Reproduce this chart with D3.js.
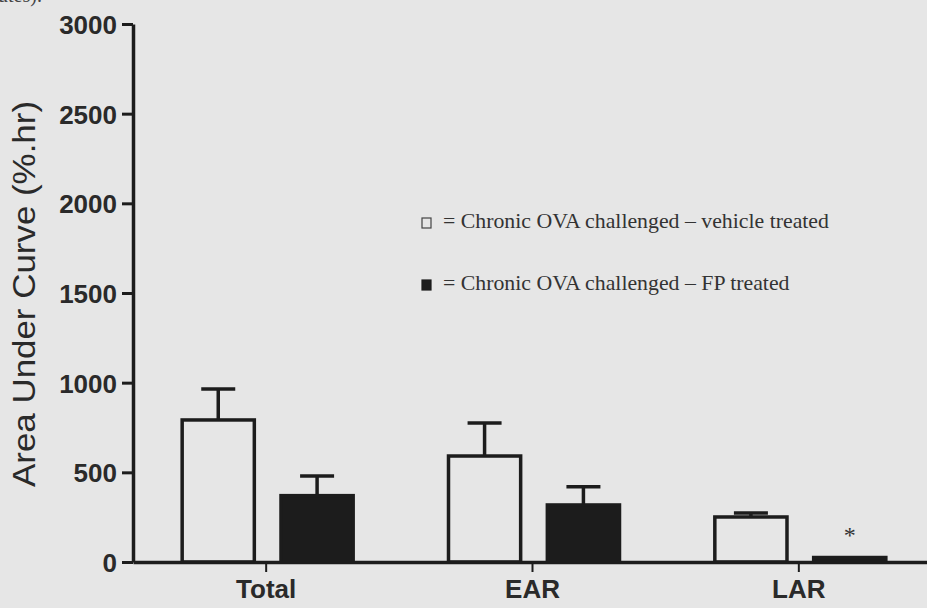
<!DOCTYPE html>
<html>
<head>
<meta charset="utf-8">
<script src="https://cdn.jsdelivr.net/npm/d3@7"></script>
<style>
  body { margin: 0; background: #e5e5e5; }
  svg { display: block; }
</style>
</head>
<body>
<div id="chart"></div>
<script>
// chart size
var w = 927;
var h = 608;

// data
var categories = ["Total", "EAR", "LAR"];
var groups = ["vehicle", "FP"];
var vehicleMeans = [792, 591, 251];
var vehicleErrors = [172, 184, 22];
var fpMeans = [370, 318, 25];
var fpErrors = [110, 102, 0];
var yTicks = [0, 500, 1000, 1500, 2000, 2500, 3000];
var legendLabels = ["= Chronic OVA challenged \u2013 vehicle treated",
                    "= Chronic OVA challenged \u2013 FP treated"];

var ink = "#1c1c1c";

var rows = [];
categories.forEach(function(c, i) {
    rows.push({cat: c, grp: "vehicle", mean: vehicleMeans[i], err: vehicleErrors[i]});
    rows.push({cat: c, grp: "FP", mean: fpMeans[i], err: fpErrors[i]});
});

var svg = d3.select("#chart")
            .append("svg")
            .attr("width", w)
            .attr("height", h);

// scanned page background
svg.append("rect")
   .attr("width", w)
   .attr("height", h)
   .style("fill", "#e6e6e6");

// scales
var yScale = d3.scaleLinear()
    .domain([0, 3000])
    .range([562, 24]);

var xScale = d3.scaleBand()
    .domain(categories)
    .range([133, 932])
    .paddingInner(0)
    .paddingOuter(0);

var bw = xScale.bandwidth();
var xSub = d3.scaleBand()
    .domain(groups)
    .range([bw / 2 - 84, bw / 2 + 87])
    .paddingInner(0.27);

// cut-off caption line from the page above
svg.append("text")
   .attr("x", -2)
   .attr("y", 2)
   .style("font-family", "Liberation Serif, serif")
   .style("font-size", "20px")
   .style("fill", "#444")
   .text("utes).");

// bars
svg.selectAll("rect.bar")
   .data(rows)
   .enter()
   .append("rect")
   .attr("class", "bar")
   .attr("x", function(d) { return xScale(d.cat) + xSub(d.grp); })
   .attr("y", function(d) { return yScale(d.mean); })
   .attr("width", xSub.bandwidth())
   .attr("height", function(d) { return yScale(0) - yScale(d.mean); })
   .style("fill", function(d) { return d.grp == "FP" ? ink : "none"; })
   .style("stroke", ink)
   .style("stroke-width", 3.5);

// error bars (upper only)
var eb = svg.selectAll("g.err")
   .data(rows.filter(function(d) { return d.err > 0; }))
   .enter()
   .append("g")
   .attr("class", "err");

eb.append("line")
  .attr("x1", function(d) { return xScale(d.cat) + xSub(d.grp) + xSub.bandwidth() / 2; })
  .attr("x2", function(d) { return xScale(d.cat) + xSub(d.grp) + xSub.bandwidth() / 2; })
  .attr("y1", function(d) { return yScale(d.mean); })
  .attr("y2", function(d) { return yScale(d.mean + d.err); })
  .style("stroke", ink)
  .style("stroke-width", 3.5);

eb.append("line")
  .attr("x1", function(d) { return xScale(d.cat) + xSub(d.grp) + xSub.bandwidth() / 2 - 17; })
  .attr("x2", function(d) { return xScale(d.cat) + xSub(d.grp) + xSub.bandwidth() / 2 + 17; })
  .attr("y1", function(d) { return yScale(d.mean + d.err); })
  .attr("y2", function(d) { return yScale(d.mean + d.err); })
  .style("stroke", ink)
  .style("stroke-width", 3.5);

// significance star over LAR FP
svg.append("text")
   .attr("x", xScale("LAR") + xSub("FP") + xSub.bandwidth() / 2)
   .attr("y", 543)
   .attr("text-anchor", "middle")
   .style("font-family", "Liberation Serif, serif")
   .style("font-size", "24px")
   .style("fill", "#333")
   .text("*");

// axes
var yAxis = d3.axisLeft(yScale)
    .tickValues(yTicks)
    .tickFormat(d3.format("d"))
    .tickSize(11)
    .tickPadding(5)
    .tickSizeOuter(0);

var gy = svg.append("g")
    .attr("transform", "translate(133,0)")
    .call(yAxis);

var xAxis = d3.axisBottom(xScale)
    .tickSize(10)
    .tickPadding(8)
    .tickSizeOuter(0);

var gx = svg.append("g")
    .attr("transform", "translate(0,562)")
    .call(xAxis);

[gy, gx].forEach(function(g) {
    g.select(".domain").style("stroke", ink).style("stroke-width", 3.5);
    g.selectAll(".tick line").style("stroke", ink).style("stroke-width", 3);
    g.selectAll(".tick text")
     .style("font-family", "Liberation Sans, Arial, sans-serif")
     .style("font-weight", "bold")
     .style("font-size", "26px")
     .style("fill", "#2a2a2a");
});
gx.selectAll(".tick line").style("stroke-width", 2);
gy.selectAll(".tick text").attr("dy", "0.36em");

// y title
svg.append("text")
   .attr("transform", "translate(23,294) rotate(-90)")
   .attr("text-anchor", "middle")
   .attr("dy", "0.36em")
   .attr("textLength", 386)
   .attr("lengthAdjust", "spacingAndGlyphs")
   .style("font-family", "Liberation Sans, Arial, sans-serif")
   .style("font-size", "32px")
   .style("fill", "#2a2a2a")
   .text("Area Under Curve (%.hr)");

// legend
var legend = svg.selectAll("g.legend")
   .data(groups)
   .enter()
   .append("g")
   .attr("class", "legend")
   .attr("transform", function(d, i) { return "translate(422," + (228 + i * 62) + ")"; });

legend.append("rect")
   .attr("x", 0)
   .attr("y", -10)
   .attr("width", 9)
   .attr("height", 10)
   .style("fill", function(d) { return d == "FP" ? ink : "none"; })
   .style("stroke", function(d) { return d == "FP" ? ink : "#444"; })
   .style("stroke-width", 1.2);

legend.append("text")
   .attr("x", 21)
   .attr("y", 0)
   .style("font-family", "Liberation Serif, serif")
   .style("font-size", "21.8px")
   .style("fill", "#333")
   .text(function(d, i) { return legendLabels[i]; });
</script>
</body>
</html>
